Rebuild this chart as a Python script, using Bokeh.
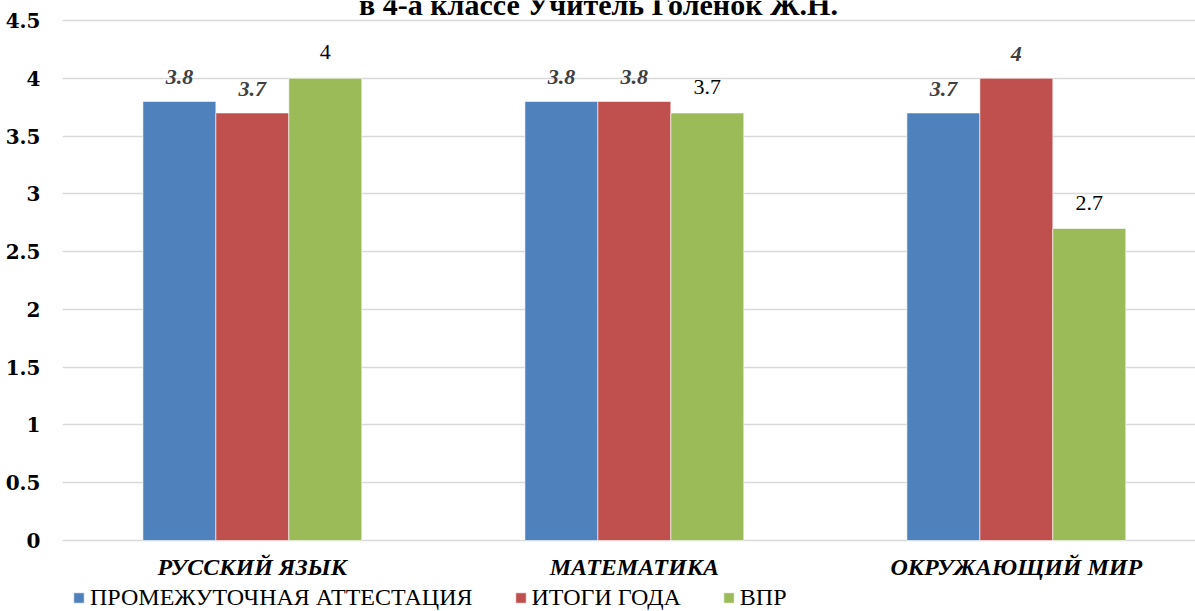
from bokeh.plotting import figure
from bokeh.models import (FixedTicker, Legend, LegendItem, Label, ColumnDataSource,
                          LabelSet)
from bokeh.transform import dodge
from bokeh.embed import file_html
from bokeh.resources import INLINE

title_text = "в 4-а классе Учитель Голенок Ж.Н."
categories = ["РУССКИЙ ЯЗЫК", "МАТЕМАТИКА", "ОКРУЖАЮЩИЙ МИР"]
series_names = ["ПРОМЕЖУТОЧНАЯ АТТЕСТАЦИЯ", "ИТОГИ ГОДА", "ВПР"]
interim = [3.8, 3.8, 3.7]
year_results = [3.7, 3.8, 4.0]
vpr = [4.0, 3.7, 2.7]
y_ticks = [0, 0.5, 1, 1.5, 2, 2.5, 3, 3.5, 4, 4.5]
y_tick_labels = ["0", "0.5", "1", "1.5", "2", "2.5", "3", "3.5", "4", "4.5"]

colors = ["#4F81BD", "#C0504D", "#9BBB59"]
offsets = [-0.191, 0.0, 0.191]
bar_w = 0.191

xs = list(range(len(categories)))

# frame covers the whole height; value 0 sits at 540px, 4.5 at 20px
p = figure(width=1195, height=611, output_backend="svg", toolbar_location=None,
           x_range=(-0.497, 2.469), y_range=(-0.614, 4.673),
           min_border_top=0, min_border_left=62, min_border_right=0,
           min_border_bottom=0)
p.outline_line_color = None
p.background_fill_color = "white"
p.xaxis.visible = False

items = []
for i, (vals, name) in enumerate(zip([interim, year_results, vpr], series_names)):
    src = ColumnDataSource(dict(x=xs, v=vals, lbl=[f"{v:g}" for v in vals]))
    r = p.vbar(x=dodge("x", offsets[i]), top="v", bottom=0, width=bar_w, source=src,
               fill_color=colors[i], line_color="white", line_width=0.6)
    items.append(LegendItem(label=name, renderers=[r]))
    if i < 2:
        ls = LabelSet(x=dodge("x", offsets[i]), y="v", text="lbl", source=src,
                      y_offset=24, text_align="center", text_baseline="middle",
                      text_font="Liberation Serif", text_font_style="bold italic",
                      text_font_size="22px", text_color="#404040")
    else:
        ls = LabelSet(x=dodge("x", offsets[i]), y="v", text="lbl", source=src,
                      y_offset=26, text_align="center", text_baseline="middle",
                      text_font="Liberation Sans", text_font_size="22px",
                      text_color="#000000")
    p.add_layout(ls)

# category labels under the bars
cat_src = ColumnDataSource(dict(x=xs, y=[0] * len(xs), t=categories))
p.add_layout(LabelSet(x="x", y="y", text="t", source=cat_src, y_offset=-26,
                      text_align="center", text_baseline="middle",
                      text_font="Liberation Serif", text_font_style="bold italic",
                      text_font_size="24px", text_color="#000000"))

# y axis
p.yaxis.ticker = FixedTicker(ticks=y_ticks)
p.yaxis.major_label_overrides = {t: l for t, l in zip(y_ticks, y_tick_labels)}
p.yaxis.axis_line_color = None
p.yaxis.major_tick_line_color = None
p.yaxis.minor_tick_line_color = None
p.yaxis.major_label_text_font = "DejaVu Serif"
p.yaxis.major_label_text_font_style = "bold"
p.yaxis.major_label_text_font_size = "20px"
p.yaxis.major_label_text_color = "#000000"
p.yaxis.major_label_standoff = 16

p.xgrid.grid_line_color = None
p.ygrid.grid_line_color = "#D9D9D9"
p.ygrid.grid_line_width = 1.3

legend = Legend(items=items, orientation="horizontal", location=(10, 0),
                border_line_color=None, background_fill_alpha=0,
                glyph_width=13, glyph_height=13, label_standoff=5, spacing=41,
                padding=0, margin=0,
                label_text_font="Liberation Serif", label_text_font_size="24px",
                label_text_color="#000000", label_height=24)
p.add_layout(legend)

p.add_layout(Label(x=536, y=607, x_units="screen", y_units="screen", text=title_text,
                   text_align="center", text_baseline="alphabetic",
                   text_font="Liberation Serif", text_font_style="bold",
                   text_font_size="30px", text_color="#000000"))

open("out.html", "w").write(file_html(p, INLINE))
